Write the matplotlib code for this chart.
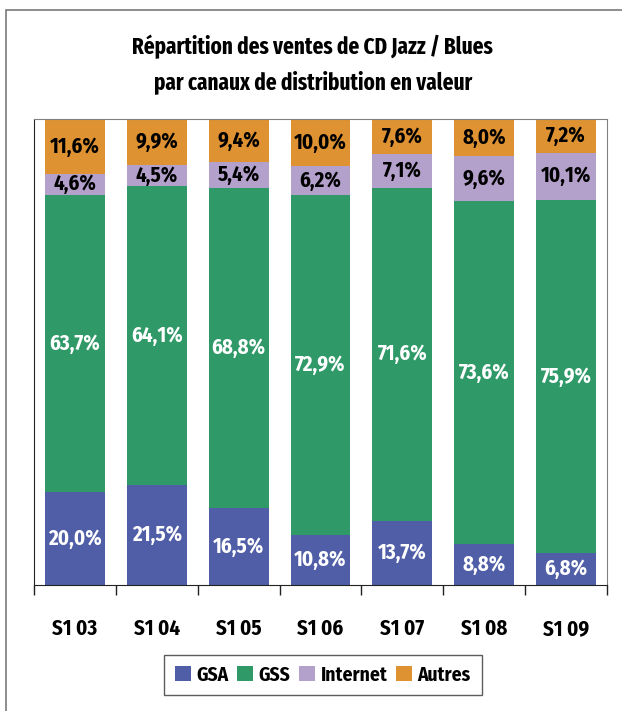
import matplotlib
matplotlib.use("Agg")
import matplotlib.pyplot as plt
from matplotlib.patches import Rectangle
import numpy as np

categories = ["S1 03", "S1 04", "S1 05", "S1 06", "S1 07", "S1 08", "S1 09"]
gsa = [20.0, 21.5, 16.5, 10.8, 13.7, 8.8, 6.8]
gss = [63.7, 64.1, 68.8, 72.9, 71.6, 73.6, 75.9]
internet = [4.6, 4.5, 5.4, 6.2, 7.1, 9.6, 10.1]
autres = [11.6, 9.9, 9.4, 10.0, 7.6, 8.0, 7.2]
series_names = ["GSA", "GSS", "Internet", "Autres"]
colors = ["#4F5EA6", "#2F9968", "#B3A0CB", "#DE9231"]
label_colors = ["white", "white", "black", "black"]

plt.rcParams['font.family'] = ['Fira Sans Condensed', 'DejaVu Sans']
plt.rcParams['font.weight'] = 'bold'
title_family = ['Fira Sans Extra Condensed', 'Fira Sans Condensed', 'DejaVu Sans']

fig = plt.figure(figsize=(6.22, 7.11), dpi=100)
# outer frame (left/top visible)
fig.patches.append(Rectangle((6/622, -0.05), 1.2, 1 - 10/711 + 0.05, transform=fig.transFigure,
                             fill=False, edgecolor="#7a7a7a", linewidth=1.2))

ax = fig.add_axes([34/622, 1 - 585/711, (607 - 34)/622, (585 - 119)/711])
x = np.arange(len(categories))
bottom = np.zeros(len(categories))
data = [gsa, gss, internet, autres]
for vals, name, c, lc in zip(data, series_names, colors, label_colors):
    vals = np.array(vals)
    ax.bar(x, vals, bottom=bottom, width=0.73, color=c, label=name, edgecolor='none')
    for xi, b, v in zip(x, bottom, vals):
        ax.text(xi, b + v / 2, f"{v:.1f}%".replace(".", ","), ha='center', va='center',
                color=lc, fontsize=15, fontweight='bold')
    bottom += vals

ax.set_xlim(-0.5, len(categories) - 0.5)
ax.set_ylim(0, 100)
ax.set_yticks([])
ax.set_xticks(np.arange(len(categories) + 1) - 0.5, minor=False)
ax.set_xticklabels([])
ax.tick_params(axis='x', which='major', length=7, width=1, color='#222222', direction='out')
ax.set_xticks(x, minor=True)
ax.set_xticklabels(categories, minor=True, fontsize=15, fontweight='bold')
ax.tick_params(axis='x', which='minor', length=0, pad=24)
for s in ['top', 'right']:
    ax.spines[s].set_color('#808080')
for s in ['left', 'bottom']:
    ax.spines[s].set_color('#222222')

fig.text(0.503, 1 - 47/711, "Répartition des ventes de CD Jazz / Blues", ha='center', va='center',
         fontsize=16.5, fontweight='bold', family=title_family)
fig.text(0.503, 1 - 82/711, "par canaux de distribution en valeur", ha='center', va='center',
         fontsize=16.5, fontweight='bold', family=title_family)

leg = fig.legend(loc='center', bbox_to_anchor=(323/622, 1 - 675/711), ncol=4, frameon=True,
                 fancybox=False, edgecolor='#333333', fontsize=14, handlelength=0.8, handleheight=0.8,
                 handletextpad=0.3, columnspacing=0.45, borderpad=0.55, borderaxespad=0)
leg.get_frame().set_linewidth(1.0)

fig.savefig("out.png", dpi=100)
